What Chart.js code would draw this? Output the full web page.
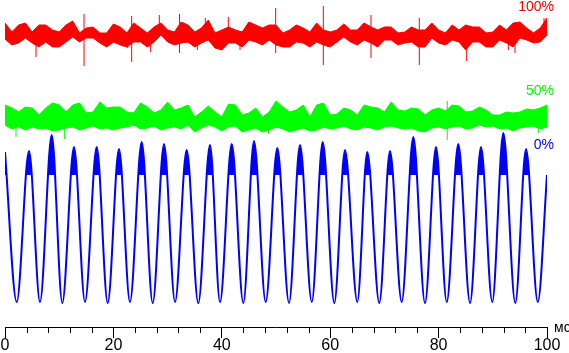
<!DOCTYPE html>
<html>
<head>
<meta charset="utf-8">
<script src="https://cdn.jsdelivr.net/npm/chart.js@4.4.0/dist/chart.umd.min.js"></script>
<style>
  html, body { margin: 0; padding: 0; background: #fff; }
  canvas { display: block; }
</style>
</head>
<body>
<canvas id="flickerChart" width="569" height="353"></canvas>
<script>
// time axis, ms
const sampleStep = 1.25;
const xTickValues = [0, 20, 40, 60, 80, 100];

// 100% brightness: noise band (upper / lower edge), arbitrary level units
const redTop = [304, 295, 302, 304, 295, 302, 302, 297, 295, 302,
  306, 294, 299, 300, 294, 294, 303, 300, 294, 304,
  299, 294, 300, 304, 297, 295, 305, 302, 295, 299,
  307, 294, 297, 300, 297, 295, 305, 302, 299, 302,
  302, 294, 297, 302, 299, 295, 304, 297, 295, 297,
  303, 297, 297, 304, 300, 297, 300, 300, 294, 295,
  300, 297, 297, 304, 297, 294, 302, 297, 302, 300,
  300, 294, 295, 302, 297, 304, 305, 299, 294, 299, 309];
const redBottom = [288, 282, 284, 289, 284, 280, 285, 280, 280, 285,
  290, 285, 289, 289, 284, 280, 285, 282, 280, 285,
  285, 280, 285, 292, 285, 282, 284, 285, 280, 284,
  287, 279, 277, 284, 284, 280, 287, 285, 282, 287,
  282, 280, 280, 285, 284, 280, 285, 282, 280, 285,
  290, 285, 282, 287, 284, 280, 287, 287, 282, 284,
  285, 280, 280, 289, 284, 282, 287, 285, 277, 285,
  285, 280, 280, 287, 284, 280, 289, 287, 284, 285, 292];
const redSpikeX = [5.72, 14.58, 22.64, 23.37, 26.88, 28.47, 32.2, 35.48, 36.96, 41.2, 43.36, 49.94, 58.73, 67.53, 76.44, 85.18, 92.86, 94.1, 99.45];
const redSpikeHi = [287, 313, 290, 311, 290, 312, 313, 290, 309, 310, 290, 319, 321, 312, 309, 290, 290, 290, 309];
const redSpikeLo = [270, 261, 279, 265, 275, 295, 274, 277, 295, 295, 277, 274, 262, 269, 262, 266, 277, 274, 295];

// 50% brightness
const greenTop = [222, 219, 215, 220, 219, 212, 219, 224, 222, 215,
  222, 224, 214, 215, 225, 219, 220, 220, 215, 214,
  224, 220, 214, 217, 225, 217, 219, 222, 210, 215,
  221, 215, 210, 223, 222, 212, 214, 219, 210, 215,
  226, 220, 215, 217, 222, 210, 222, 224, 212, 213,
  219, 217, 212, 222, 220, 219, 215, 225, 217, 216,
  219, 218, 212, 217, 219, 216, 222, 221, 215, 216,
  220, 217, 212, 212, 215, 214, 215, 218, 217, 219, 222];
const greenBottom = [202, 198, 200, 197, 200, 198, 199, 196, 197, 199,
  200, 197, 199, 201, 198, 199, 197, 199, 200, 202,
  198, 199, 201, 197, 199, 200, 198, 202, 195, 199,
  202, 200, 196, 200, 201, 195, 197, 199, 195, 197,
  200, 198, 195, 197, 199, 196, 197, 200, 198, 199,
  201, 198, 197, 200, 199, 197, 200, 201, 199, 198,
  199, 196, 195, 199, 200, 198, 200, 201, 198, 199,
  202, 200, 201, 198, 199, 196, 199, 200, 201, 198, 200];
const greenSpikeX = [2.03, 10.95, 48.6, 81.6, 98.4];
const greenSpikeHi = [205, 205, 205, 226, 205];
const greenSpikeLo = [190, 188, 193, 187, 194];

// 0% brightness: peaks and troughs of the ripple
const blueTimes = [0, 2.16, 4.43, 6.46, 8.62, 10.57, 12.73, 14.76, 16.92, 18.95,
  21.03, 23.06, 25.22, 27.25, 29.34, 31.37, 33.52, 35.66, 37.82, 39.67,
  41.83, 43.97, 45.94, 48.1, 50.24, 52.4, 54.43, 56.6, 58.62, 60.76,
  62.73, 65.0, 66.84, 69.06, 71.03, 73.19, 75.33, 77.49, 79.52, 81.5,
  83.63, 85.8, 87.82, 89.9, 91.94, 94.15, 96.13, 98.3, 100];
const blueLevels = [175, 25, 176, 25, 192, 24, 180, 25, 180, 24,
  178, 25, 185, 24, 183, 25, 177, 24, 182, 25,
  183, 24, 186, 25, 179, 24, 182, 25, 185, 24,
  177, 25, 175, 24, 176, 25, 190, 24, 180, 25,
  183, 24, 180, 25, 194, 24, 178, 25, 152];
// level below which the ripple crests are no longer smeared by noise
const blueCrestLevel = 152;

const seriesNames = ['100%', '50%', '0%'];
const seriesColors = ['#ff0000', '#00ff00', '#0000ff'];
const labelLevels = [316, 232, 178];
const unitLabel = 'мс';

const FONT = "'Liberation Sans', Arial, sans-serif";

function band(values) {
    return values.map((v, i) => ({ x: i * sampleStep, y: v }));
}

function spikes(xs, lo, hi) {
    const pts = [];
    xs.forEach((x, i) => {
        pts.push({ x: x, y: lo[i] }, { x: x, y: hi[i] }, { x: x, y: null });
    });
    return pts;
}

const lineBase = { pointRadius: 0, borderWidth: 1, tension: 0 };

const extras = {
    id: 'extras',
    afterDraw(chart) {
        const { ctx, chartArea, scales: { x, y } } = chart;
        ctx.save();
        ctx.strokeStyle = '#000';
        ctx.lineWidth = 1;
        ctx.beginPath();
        x.ticks.forEach(t => {
            if (t.value % 20 === 0) return;
            const px = Math.round(x.getPixelForValue(t.value)) + 0.5;
            ctx.moveTo(px, chartArea.bottom);
            ctx.lineTo(px, chartArea.bottom + 6);
        });
        ctx.stroke();

        ctx.font = '14px ' + FONT;
        ctx.textAlign = 'right';
        ctx.textBaseline = 'alphabetic';
        seriesNames.forEach((name, i) => {
            ctx.fillStyle = seriesColors[i];
            ctx.fillText(name, chartArea.right + 7, y.getPixelForValue(labelLevels[i]));
        });
        ctx.textAlign = 'left';
        ctx.fillStyle = '#000';
        ctx.fillText(unitLabel, chartArea.right + 7, chartArea.bottom + 5);
        ctx.restore();
    }
};

const ctx = document.getElementById('flickerChart').getContext('2d');
new Chart(ctx, {
    type: 'line',
    data: {
        datasets: [
            { ...lineBase, data: band(redTop), borderColor: seriesColors[0], backgroundColor: seriesColors[0], fill: '+1' },
            { ...lineBase, data: band(redBottom), borderColor: seriesColors[0], fill: false },
            { ...lineBase, data: spikes(redSpikeX, redSpikeLo, redSpikeHi), borderColor: seriesColors[0], fill: false, spanGaps: false },
            { ...lineBase, data: band(greenTop), borderColor: seriesColors[1], backgroundColor: seriesColors[1], fill: '+1' },
            { ...lineBase, data: band(greenBottom), borderColor: seriesColors[1], fill: false },
            { ...lineBase, data: spikes(greenSpikeX, greenSpikeLo, greenSpikeHi), borderColor: seriesColors[1], fill: false, spanGaps: false },
            {
                pointRadius: 0, borderWidth: 2, cubicInterpolationMode: 'monotone',
                data: blueTimes.map((t, i) => ({ x: t, y: blueLevels[i] })),
                borderColor: seriesColors[2],
                fill: { target: { value: blueCrestLevel }, above: seriesColors[2], below: 'rgba(0,0,0,0)' }
            }
        ]
    },
    options: {
        responsive: false,
        animation: false,
        devicePixelRatio: 1,
        layout: { padding: { left: 5, right: 22, top: 0, bottom: 0 } },
        plugins: { legend: { display: false }, tooltip: { enabled: false } },
        scales: {
            x: {
                type: 'linear', min: 0, max: 100,
                grid: {
                    drawOnChartArea: false, tickLength: 11, lineWidth: 1,
                    tickColor: c => (c.tick && c.tick.value % 20 === 0) ? '#000' : 'rgba(0,0,0,0)'
                },
                border: { display: true, color: '#000', width: 1 },
                ticks: {
                    stepSize: 4, autoSkip: false, maxRotation: 0, padding: 0, color: '#000',
                    font: { family: FONT, size: 16, lineHeight: 0.9375 },
                    callback: v => xTickValues.includes(v) ? String(v) : ''
                }
            },
            y: { display: false, min: 0, max: 327 }
        }
    },
    plugins: [extras]
});
</script>
</body>
</html>
